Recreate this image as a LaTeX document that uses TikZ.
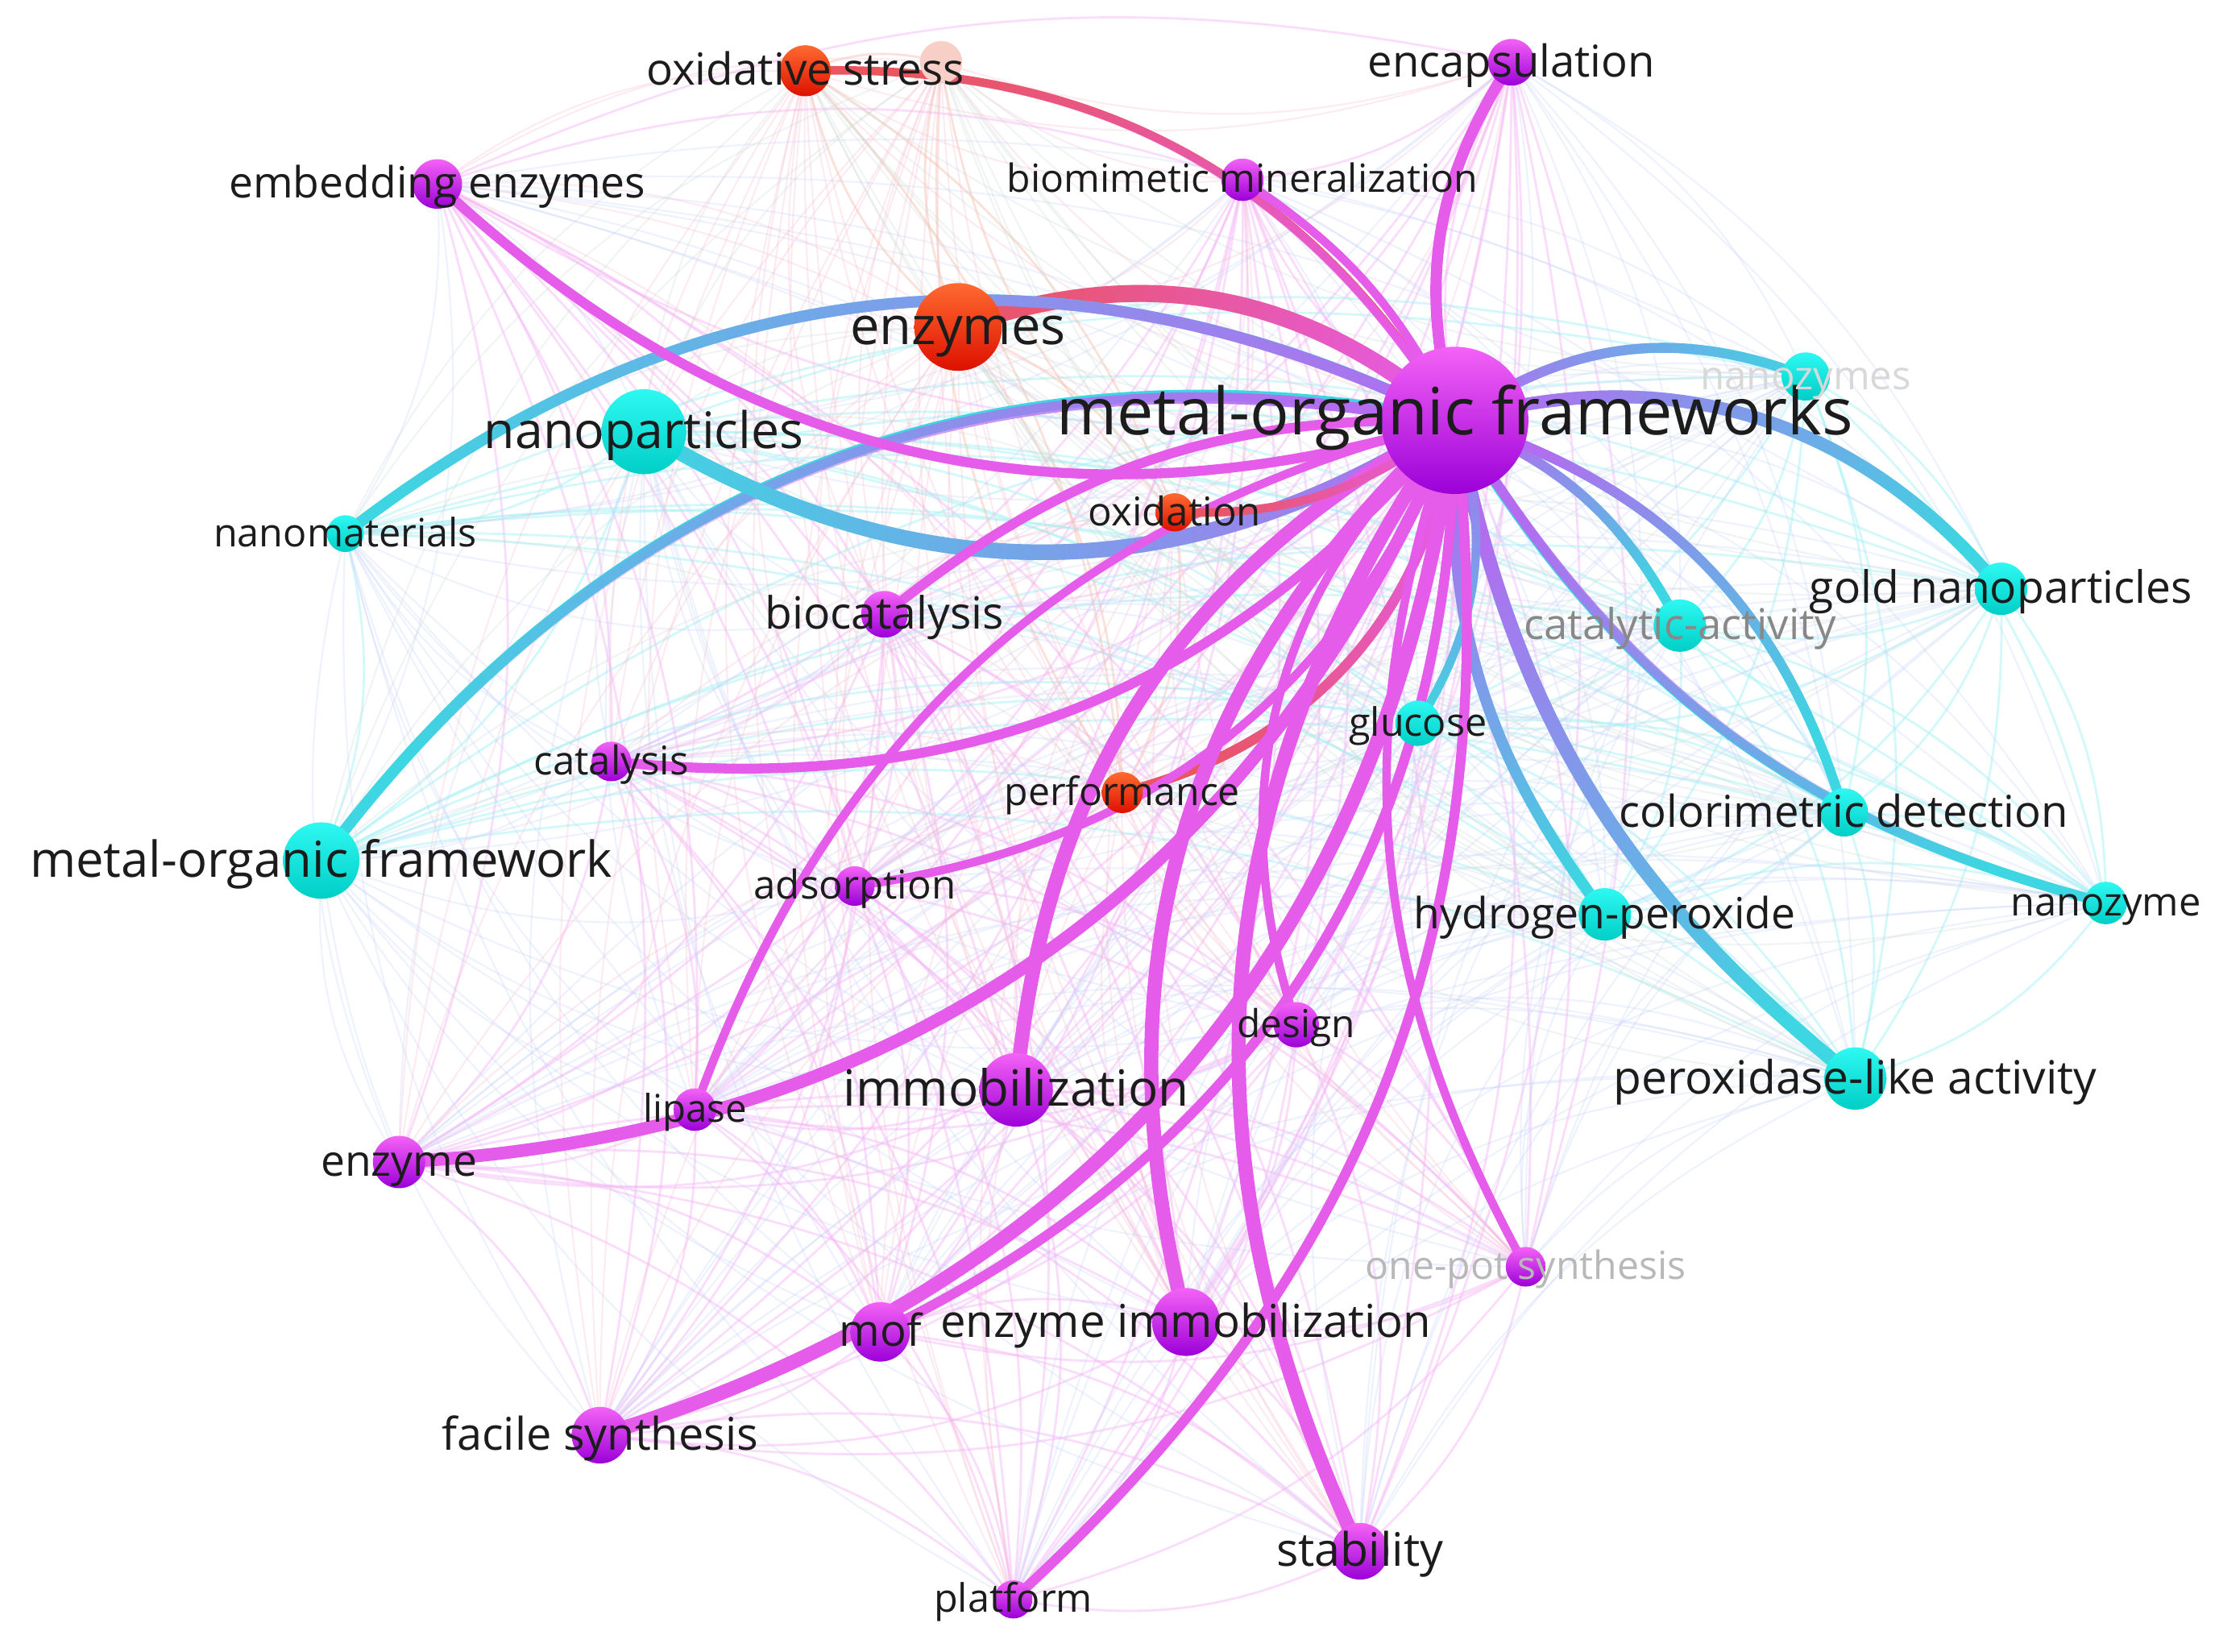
\documentclass[tikz,border=0pt]{standalone}
\usepackage{fontspec}
\setmainfont{Open Sans}
\usetikzlibrary{calc,fadings}
\definecolor{pTop}{HTML}{F462F6}
\definecolor{pBot}{HTML}{9C00D8}
\definecolor{cTop}{HTML}{2EF8F2}
\definecolor{cBot}{HTML}{00CFC6}
\definecolor{rTop}{HTML}{FF6A30}
\definecolor{rBot}{HTML}{DD1000}
\definecolor{eMag}{HTML}{E65CEA}
\definecolor{eCy}{HTML}{3ED6E2}
\definecolor{eVio}{HTML}{B46CF0}
\definecolor{eRed}{HTML}{EA5560}
\definecolor{fPink}{HTML}{F6B4F6}
\definecolor{fCy}{HTML}{A8F2F4}
\definecolor{fSal}{HTML}{F6C4B4}
\definecolor{fLav}{HTML}{C8D4FA}
\definecolor{lblC}{HTML}{1C1C1C}
\definecolor{fadeC}{HTML}{F8CFC6}
\pgfdeclarelayer{back}
\pgfdeclarelayer{faint}
\pgfdeclarelayer{edges}
\pgfdeclarelayer{fg}
\pgfsetlayers{back,faint,edges,main,fg}
\tikzset{
  P/.style={circle, draw=none, inner sep=0pt, top color=pTop, bottom color=pBot},
  C/.style={circle, draw=none, inner sep=0pt, top color=cTop, bottom color=cBot},
  R/.style={circle, draw=none, inner sep=0pt, top color=rTop, bottom color=rBot},
  Fd/.style={circle, draw=none, inner sep=0pt, fill=fadeC},
  lbl/.style={inner sep=0pt, text=lblC},
  fpp/.style={fPink, line width=0.8pt, opacity=0.45},
  fcc/.style={fCy, line width=0.8pt, opacity=0.5},
  frr/.style={fSal, line width=0.8pt, opacity=0.5},
  fpc/.style={fLav, line width=0.6pt, opacity=0.3},
  fpr/.style={fSal!60!fPink, line width=0.6pt, opacity=0.3},
  fcr/.style={fSal!50!fCy, line width=0.6pt, opacity=0.3}
}
\newcommand\kw[7][0]{%
  \node[#5, minimum size=#4*0.9995pt] (#2) at (#3) {};
  \begin{pgfonlayer}{fg}
    \node[lbl, yshift=#1*0.4997pt, text height=#6*0.86pt, text depth=#6*0.2pt, font=\fontsize{#6pt}{#6pt}\selectfont] (#2-l) at (#3) {#7};
  \end{pgfonlayer}}
\newcommand\gedge[6]{%
  \path let \p1=($(#2)-(#1)$), \n1={atan2(\y1,\x1)} in \pgfextra{\xdef\gang{\n1}};
  \draw[line width=#4, color=#5] (#1.center) to[#3] (#2.center);
  \draw[line width=#4, color=#6, path fading=west, fading angle=\gang] (#1.center) to[#3] (#2.center);}
\newcommand\pedge[4]{\draw[line width=#4, eMag] (#1.center) to[#3] (#2.center);}
\def\Plist{hub,embed,encap,biomin,biocat,catal,adsorp,design,immob,lipase,enzyme,onepot,mof,enzimmob,facile,stab,platform}
\def\Clist{nanopart,nanomat,mofw,nanozymes,gold,catact,glucose,colori,hp,nanozyme,perox}
\def\Rlist{enzymes,oxstress,oxid,perf,faded}
\begin{document}
\begin{tikzpicture}[x=0.017564cm, y=-0.017564cm]
\begin{pgfonlayer}{back}
\fill[white] (0,0) rectangle (1568,1167);
\end{pgfonlayer}
\useasboundingbox (0,0) rectangle (1568,1167);
% purple cluster
\kw[5]{hub}{1028,297}{52}{P}{23}{metal-organic frameworks}
\kw{embed}{309,130}{17.5}{P}{15.2}{embedding enzymes}
\kw{encap}{1068,44}{16.5}{P}{15.5}{encapsulation}
\kw{biomin}{878,127}{15}{P}{13.7}{biomimetic mineralization}
\kw{biocat}{625,434}{16.5}{P}{15.7}{biocatalysis}
\kw{catal}{432,538}{14}{P}{14}{catalysis}
\kw{adsorp}{604,626}{14}{P}{14}{adsorption}
\kw{design}{916,724}{16}{P}{13.6}{design}
\kw{immob}{718,770}{26}{P}{17.6}{immobilization}
\kw{lipase}{491,784}{15}{P}{13.5}{lipase}
\kw{enzyme}{282,821}{18.5}{P}{15.2}{enzyme}
\kw{onepot}{1078,895}{14}{P}{13.7}{\textcolor[HTML]{B8B8B8}{one-pot synthesis}}
\kw{mof}{622,941}{21}{P}{15.5}{mof}
\kw{enzimmob}{838,934}{24}{P}{16}{enzyme immobilization}
\kw{facile}{424,1014}{20}{P}{15.9}{facile synthesis}
\kw{stab}{961,1096}{20}{P}{16.3}{stability}
\kw{platform}{716,1130}{13.5}{P}{13.8}{platform}
% cyan cluster
\kw{nanopart}{455,305}{30}{C}{17.8}{nanoparticles}
\kw{nanomat}{244,377}{13}{C}{13.8}{nanomaterials}
\kw{mofw}{227,608}{27}{C}{17.5}{metal-organic framework}
\kw{nanozymes}{1276,266}{17}{C}{14}{\textcolor[HTML]{D8D8D8}{nanozymes}}
\kw{gold}{1414,416}{18.5}{C}{15.7}{gold nanoparticles}
\kw{catact}{1187,442}{18.5}{C}{15}{\textcolor[HTML]{888888}{catalytic-activity}}
\kw{glucose}{1002,511}{16}{C}{13.8}{glucose}
\kw{colori}{1303,574}{17}{C}{15.5}{colorimetric detection}
\kw{hp}{1134,646}{18.5}{C}{15.2}{hydrogen-peroxide}
\kw{nanozyme}{1488,638}{15}{C}{13.9}{nanozyme}
\kw{perox}{1311,762}{22}{C}{16.2}{peroxidase-like activity}
% red cluster
\kw{enzymes}{677,231}{31}{R}{18.5}{enzymes}
\kw{oxstress}{569,50}{18}{R}{15.6}{oxidative stress}
\kw{oxid}{830,362}{13.5}{R}{14}{oxidation}
\kw{perf}{793,560}{14.5}{R}{13.7}{performance}
\node[Fd, minimum size=15*0.9995pt] (faded) at (665,44) {};
% faint web
\begin{pgfonlayer}{faint}
\foreach \a [count=\i] in \Plist {\foreach \b [count=\j] in \Plist {\ifnum\j>\i \draw[fpp] (\a.center) to[bend left=18] (\b.center);\fi}}
\foreach \a [count=\i] in \Clist {\foreach \b [count=\j] in \Clist {\ifnum\j>\i \draw[fcc] (\a.center) to[bend left=18] (\b.center);\fi}}
\foreach \a [count=\i] in \Rlist {\foreach \b [count=\j] in \Rlist {\ifnum\j>\i \draw[frr] (\a.center) to[bend left=18] (\b.center);\fi}}
\foreach \a in \Plist {\foreach \b in \Clist {\draw[fpc] (\a.center) to[bend left=18] (\b.center);}}
\foreach \a in \Plist {\foreach \b in \Rlist {\draw[fpr] (\a.center) to[bend left=18] (\b.center);}}
\foreach \a in \Clist {\foreach \b in \Rlist {\draw[fcr] (\a.center) to[bend left=18] (\b.center);}}
\end{pgfonlayer}
% strong edges
\begin{pgfonlayer}{edges}
\gedge{oxstress}{hub}{bend left=30}{3pt}{eRed}{eMag}
\gedge{enzymes}{hub}{bend left=30}{6pt}{eRed}{eMag}
\gedge{nanomat}{hub}{bend left=32}{4pt}{eCy}{eVio}
\gedge{mofw}{hub}{bend left=32}{4pt}{eCy}{eVio}
\gedge{nanopart}{hub}{bend right=32}{5.5pt}{eCy}{eVio}
\pedge{embed}{hub}{bend right=30}{3.5pt}
\pedge{encap}{hub}{bend right=24}{4pt}
\pedge{biomin}{hub}{bend left=15}{3pt}
\gedge{nanozymes}{hub}{bend right=28}{3.5pt}{eCy}{eVio}
\gedge{gold}{hub}{bend right=33}{4.5pt}{eCy}{eVio}
\gedge{catact}{hub}{bend right=20}{3.5pt}{eCy}{eVio}
\gedge{colori}{hub}{bend right=28}{3.5pt}{eCy}{eVio}
\gedge{nanozyme}{hub}{bend left=22}{3.5pt}{eCy}{eVio}
\gedge{hp}{hub}{bend left=20}{4pt}{eCy}{eVio}
\gedge{perox}{hub}{bend left=20}{5pt}{eCy}{eVio}
\gedge{glucose}{hub}{bend right=25}{3pt}{eCy}{eVio}
\pedge{catal}{hub}{bend right=28}{3.5pt}
\gedge{perf}{hub}{bend right=34}{3.5pt}{eRed}{eMag}
\pedge{adsorp}{hub}{bend right=30}{3pt}
\pedge{biocat}{hub}{bend left=20}{3.5pt}
\pedge{lipase}{hub}{bend left=28}{3pt}
\pedge{enzyme}{hub}{bend right=32}{4.5pt}
\pedge{immob}{hub}{bend left=28}{5pt}
\pedge{enzimmob}{hub}{bend left=31}{5pt}
\pedge{design}{hub}{bend left=33}{3pt}
\pedge{stab}{hub}{bend left=30}{5pt}
\pedge{platform}{hub}{bend right=27}{3.5pt}
\pedge{onepot}{hub}{bend left=24}{3pt}
\pedge{facile}{hub}{bend right=33}{5pt}
\pedge{mof}{hub}{bend right=32}{3.5pt}
\gedge{oxid}{hub}{bend right=20}{3pt}{eRed}{eMag}
\end{pgfonlayer}
\end{tikzpicture}
\end{document}
